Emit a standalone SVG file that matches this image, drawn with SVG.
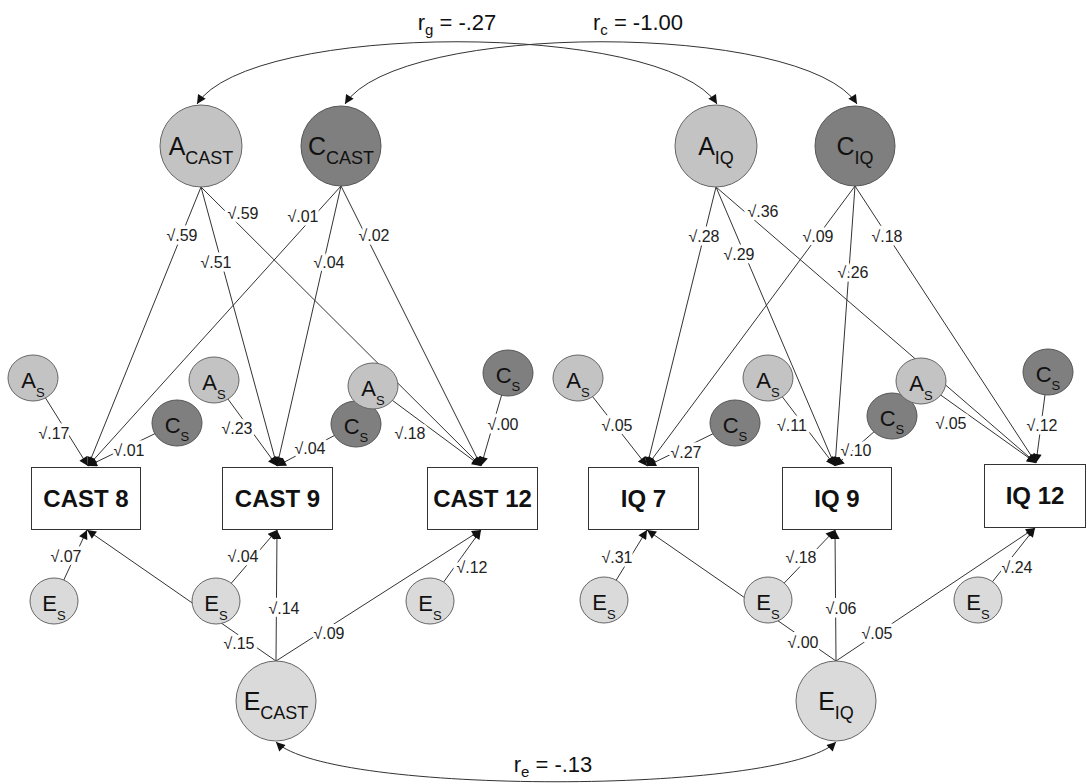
<svg xmlns="http://www.w3.org/2000/svg" width="1087" height="784" viewBox="0 0 1087 784">
  <defs>
    <marker id="ah" viewBox="0 0 10 10" refX="10" refY="5" markerWidth="10" markerHeight="9" markerUnits="userSpaceOnUse" orient="auto-start-reverse">
      <path d="M0,0 L10,5 L0,10 z" fill="#111"/>
    </marker>
    <style>
      .cn { stroke:#333; stroke-width:1; fill:none; marker-end:url(#ah); }
      .cv { stroke:#333; stroke-width:1; fill:none; marker-start:url(#ah); marker-end:url(#ah); }
      .lat-a { fill:#c3c3c3; stroke:#666; stroke-width:1; }
      .lat-c { fill:#7f7f7f; stroke:#555; stroke-width:1; }
      .lat-e { fill:#dadada; stroke:#666; stroke-width:1; }
      .box { fill:#fff; stroke:#333; stroke-width:1; }
      .lbl { font-family:'Liberation Sans', Arial, sans-serif; font-size:16px; fill:#222; text-anchor:middle; paint-order:stroke; stroke:#fff; stroke-width:7px; stroke-linejoin:round; }
      .big { font-family:'Liberation Sans', Arial, sans-serif; font-size:25px; fill:#111; text-anchor:middle; }
      .bsub { font-size:18px; }
      .sm { font-family:'Liberation Sans', Arial, sans-serif; font-size:22px; fill:#111; text-anchor:middle; }
      .ssub { font-size:13px; }
      .obs { font-family:'Liberation Sans', Arial, sans-serif; font-size:24px; font-weight:bold; fill:#111; text-anchor:middle; }
      .rl { font-family:'Liberation Sans', Arial, sans-serif; font-size:22px; fill:#111; text-anchor:middle; }
      .rsub { font-size:15px; }
    </style>
  </defs>
  <rect width="1087" height="784" fill="#fff"/>

  <!-- correlation labels -->
  <text class="rl" x="457" y="30">r<tspan class="rsub" dy="5">g</tspan><tspan dy="-5"> = -.27</tspan></text>
  <text class="rl" x="638" y="30">r<tspan class="rsub" dy="5">c</tspan><tspan dy="-5"> = -1.00</tspan></text>
  <text class="rl" x="553" y="772">r<tspan class="rsub" dy="5">e</tspan><tspan dy="-5"> = -.13</tspan></text>

  <g id="connectors">
    <!-- double-headed correlation arcs -->
    <path class="cv" d="M197,104 C250,21 664,21 717,104"/>
    <path class="cv" d="M345,104 C398,21 804,21 857,104"/>
    <path class="cv" d="M276,742 C330,795 782,795 836,742"/>

    <!-- CAST: shared latent paths -->
    <line class="cn" x1="201" y1="187" x2="88" y2="466"/>
    <line class="cn" x1="201" y1="187" x2="277" y2="466"/>
    <line class="cn" x1="201" y1="187" x2="481" y2="466"/>
    <line class="cn" x1="341" y1="186" x2="88" y2="466"/>
    <line class="cn" x1="341" y1="186" x2="277" y2="466"/>
    <line class="cn" x1="341" y1="186" x2="481" y2="466"/>
    <!-- CAST: specific paths -->
    <line class="cn" x1="33" y1="378" x2="88" y2="466"/>
    <line class="cn" x1="177" y1="423" x2="88" y2="466"/>
    <line class="cn" x1="214" y1="380" x2="277" y2="466"/>
    <line class="cn" x1="356" y1="424" x2="277" y2="466"/>
    <line class="cn" x1="373" y1="386" x2="481" y2="466"/>
    <line class="cn" x1="508" y1="373" x2="481" y2="466"/>
    <line class="cn" x1="54" y1="601" x2="87" y2="530"/>
    <line class="cn" x1="216" y1="601" x2="277" y2="530"/>
    <line class="cn" x1="430" y1="601" x2="481" y2="530"/>
    <line class="cn" x1="276" y1="661" x2="87" y2="530"/>
    <line class="cn" x1="276" y1="661" x2="277" y2="530"/>
    <line class="cn" x1="276" y1="661" x2="481" y2="530"/>

    <!-- IQ: shared latent paths -->
    <line class="cn" x1="716" y1="187" x2="647" y2="466"/>
    <line class="cn" x1="716" y1="187" x2="835" y2="466"/>
    <line class="cn" x1="716" y1="187" x2="1036" y2="463"/>
    <line class="cn" x1="855" y1="186" x2="647" y2="466"/>
    <line class="cn" x1="855" y1="186" x2="835" y2="466"/>
    <line class="cn" x1="855" y1="186" x2="1036" y2="463"/>
    <!-- IQ: specific paths -->
    <line class="cn" x1="578" y1="378" x2="647" y2="466"/>
    <line class="cn" x1="735" y1="423" x2="647" y2="466"/>
    <line class="cn" x1="768" y1="378" x2="835" y2="466"/>
    <line class="cn" x1="892" y1="416" x2="835" y2="466"/>
    <line class="cn" x1="921" y1="381" x2="1036" y2="463"/>
    <line class="cn" x1="1048" y1="372" x2="1036" y2="463"/>
    <line class="cn" x1="604" y1="600" x2="647" y2="530"/>
    <line class="cn" x1="768" y1="600" x2="835" y2="530"/>
    <line class="cn" x1="978" y1="600" x2="1035" y2="528"/>
    <line class="cn" x1="836" y1="661" x2="647" y2="530"/>
    <line class="cn" x1="836" y1="661" x2="835" y2="530"/>
    <line class="cn" x1="836" y1="661" x2="1035" y2="528"/>

    <!-- path coefficients -->
    <g id="edge-labels">
      <text class="lbl" x="182" y="241">√.59</text>
      <text class="lbl" x="216" y="268">√.51</text>
      <text class="lbl" x="243" y="219">√.59</text>
      <text class="lbl" x="303" y="222">√.01</text>
      <text class="lbl" x="329" y="268">√.04</text>
      <text class="lbl" x="374" y="241">√.02</text>
      <text class="lbl" x="54" y="439">√.17</text>
      <text class="lbl" x="129" y="456">√.01</text>
      <text class="lbl" x="237" y="434">√.23</text>
      <text class="lbl" x="310" y="454">√.04</text>
      <text class="lbl" x="410" y="439">√.18</text>
      <text class="lbl" x="503" y="430">√.00</text>
      <text class="lbl" x="66" y="562">√.07</text>
      <text class="lbl" x="243" y="562">√.04</text>
      <text class="lbl" x="472" y="573">√.12</text>
      <text class="lbl" x="239" y="649">√.15</text>
      <text class="lbl" x="284" y="614">√.14</text>
      <text class="lbl" x="329" y="639">√.09</text>

      <text class="lbl" x="704" y="242">√.28</text>
      <text class="lbl" x="739" y="260">√.29</text>
      <text class="lbl" x="763" y="217">√.36</text>
      <text class="lbl" x="818" y="242">√.09</text>
      <text class="lbl" x="853" y="278">√.26</text>
      <text class="lbl" x="887" y="242">√.18</text>
      <text class="lbl" x="617" y="431">√.05</text>
      <text class="lbl" x="686" y="458">√.27</text>
      <text class="lbl" x="792" y="431">√.11</text>
      <text class="lbl" x="856" y="456">√.10</text>
      <text class="lbl" x="951" y="429">√.05</text>
      <text class="lbl" x="1042" y="431">√.12</text>
      <text class="lbl" x="617" y="563">√.31</text>
      <text class="lbl" x="801" y="563">√.18</text>
      <text class="lbl" x="1017" y="573">√.24</text>
      <text class="lbl" x="803" y="648">√.00</text>
      <text class="lbl" x="841" y="614">√.06</text>
      <text class="lbl" x="877" y="639">√.05</text>
    </g>
  </g>

  <!-- latent factors -->
  <g id="A_CAST"><circle class="lat-a" cx="201" cy="146" r="41"/><text class="big" x="201" y="155">A<tspan class="bsub" dy="9">CAST</tspan></text></g>
  <g id="C_CAST"><circle class="lat-c" cx="341" cy="146" r="40"/><text class="big" x="341" y="155">C<tspan class="bsub" dy="9">CAST</tspan></text></g>
  <g id="A_IQ"><circle class="lat-a" cx="716" cy="146" r="41"/><text class="big" x="716" y="155">A<tspan class="bsub" dy="9">IQ</tspan></text></g>
  <g id="C_IQ"><circle class="lat-c" cx="855" cy="146" r="40"/><text class="big" x="855" y="155">C<tspan class="bsub" dy="9">IQ</tspan></text></g>
  <g id="E_CAST"><circle class="lat-e" cx="276" cy="701" r="40"/><text class="big" x="276" y="710">E<tspan class="bsub" dy="9">CAST</tspan></text></g>
  <g id="E_IQ"><circle class="lat-e" cx="836" cy="701" r="40"/><text class="big" x="836" y="710">E<tspan class="bsub" dy="9">IQ</tspan></text></g>

  <!-- specific factors, CAST -->
  <g id="As_cast8"><ellipse class="lat-a" cx="33" cy="378" rx="25" ry="23"/><text class="sm" x="33" y="388">A<tspan class="ssub" dy="9">S</tspan></text></g>
  <g id="Cs_cast8"><ellipse class="lat-c" cx="177" cy="423" rx="25" ry="23"/><text class="sm" x="177" y="433">C<tspan class="ssub" dy="8">S</tspan></text></g>
  <g id="As_cast9"><ellipse class="lat-a" cx="214" cy="380" rx="25" ry="23"/><text class="sm" x="214" y="390">A<tspan class="ssub" dy="9">S</tspan></text></g>
  <g id="Cs_cast9"><ellipse class="lat-c" cx="356" cy="424" rx="25" ry="23"/><text class="sm" x="356" y="434">C<tspan class="ssub" dy="8">S</tspan></text></g>
  <g id="As_cast12"><ellipse class="lat-a" cx="373" cy="386" rx="25" ry="23"/><text class="sm" x="373" y="396">A<tspan class="ssub" dy="9">S</tspan></text></g>
  <g id="Cs_cast12"><ellipse class="lat-c" cx="508" cy="373" rx="25" ry="23"/><text class="sm" x="508" y="383">C<tspan class="ssub" dy="8">S</tspan></text></g>
  <g id="Es_cast8"><ellipse class="lat-e" cx="54" cy="601" rx="24" ry="23"/><text class="sm" x="54" y="611">E<tspan class="ssub" dy="9">S</tspan></text></g>
  <g id="Es_cast9"><ellipse class="lat-e" cx="216" cy="601" rx="24" ry="23"/><text class="sm" x="216" y="611">E<tspan class="ssub" dy="9">S</tspan></text></g>
  <g id="Es_cast12"><ellipse class="lat-e" cx="430" cy="601" rx="24" ry="23"/><text class="sm" x="430" y="611">E<tspan class="ssub" dy="9">S</tspan></text></g>

  <!-- specific factors, IQ -->
  <g id="As_iq7"><ellipse class="lat-a" cx="578" cy="378" rx="25" ry="23"/><text class="sm" x="578" y="388">A<tspan class="ssub" dy="9">S</tspan></text></g>
  <g id="Cs_iq7"><ellipse class="lat-c" cx="735" cy="423" rx="25" ry="23"/><text class="sm" x="735" y="433">C<tspan class="ssub" dy="8">S</tspan></text></g>
  <g id="As_iq9"><ellipse class="lat-a" cx="768" cy="378" rx="25" ry="23"/><text class="sm" x="768" y="388">A<tspan class="ssub" dy="9">S</tspan></text></g>
  <g id="Cs_iq9"><ellipse class="lat-c" cx="892" cy="416" rx="25" ry="23"/><text class="sm" x="892" y="426">C<tspan class="ssub" dy="8">S</tspan></text></g>
  <g id="As_iq12"><ellipse class="lat-a" cx="921" cy="381" rx="25" ry="23"/><text class="sm" x="921" y="391">A<tspan class="ssub" dy="9">S</tspan></text></g>
  <g id="Cs_iq12"><ellipse class="lat-c" cx="1048" cy="372" rx="25" ry="23"/><text class="sm" x="1048" y="382">C<tspan class="ssub" dy="8">S</tspan></text></g>
  <g id="Es_iq7"><ellipse class="lat-e" cx="604" cy="600" rx="24" ry="23"/><text class="sm" x="604" y="610">E<tspan class="ssub" dy="9">S</tspan></text></g>
  <g id="Es_iq9"><ellipse class="lat-e" cx="768" cy="600" rx="24" ry="23"/><text class="sm" x="768" y="610">E<tspan class="ssub" dy="9">S</tspan></text></g>
  <g id="Es_iq12"><ellipse class="lat-e" cx="978" cy="600" rx="24" ry="23"/><text class="sm" x="978" y="610">E<tspan class="ssub" dy="9">S</tspan></text></g>

  <!-- observed measures -->
  <g id="CAST8"><rect class="box" x="31.5" y="467.5" width="109" height="62"/><text class="obs" x="86" y="507">CAST 8</text></g>
  <g id="CAST9"><rect class="box" x="222.5" y="467.5" width="110" height="62"/><text class="obs" x="277.5" y="507">CAST 9</text></g>
  <g id="CAST12"><rect class="box" x="427.5" y="467.5" width="110" height="62"/><text class="obs" x="482.5" y="507">CAST 12</text></g>
  <g id="IQ7"><rect class="box" x="588.5" y="467.5" width="110" height="62"/><text class="obs" x="643.5" y="507">IQ 7</text></g>
  <g id="IQ9"><rect class="box" x="782.5" y="467.5" width="109" height="62"/><text class="obs" x="837" y="507">IQ 9</text></g>
  <g id="IQ12"><rect class="box" x="984.5" y="464.5" width="101" height="63"/><text class="obs" x="1035" y="504">IQ 12</text></g>
</svg>
